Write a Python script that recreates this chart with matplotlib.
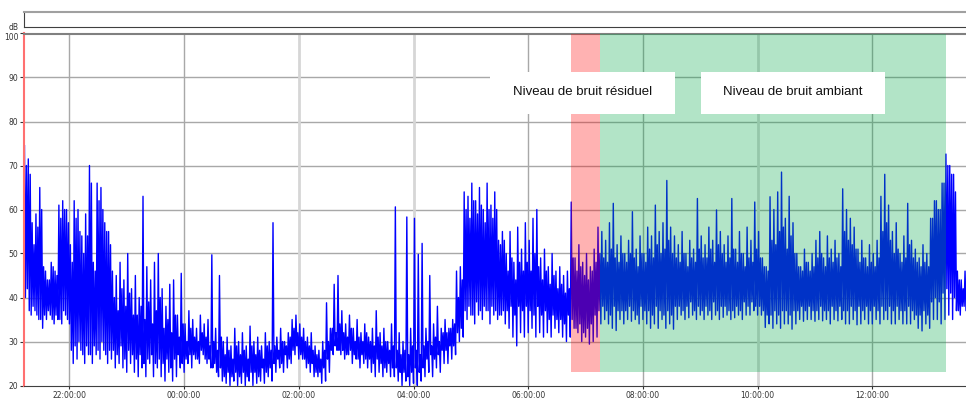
import numpy as np
import matplotlib
matplotlib.use("Agg")
import matplotlib.pyplot as plt
from matplotlib.patches import Rectangle

# Sound level record (dB) in 4-minute blocks starting at 21:13 the evening
# before: highest and lowest reading of each block, plus the upper and lower
# edge of the bulk of the readings in that block.
start_min = -167          # minutes relative to midnight (21:13)
step_min = 4

peaks = [
    74.5, 71.5, 57, 59, 65, 47, 44, 48, 46, 61,
    62, 60, 52, 62, 60, 54, 59, 70, 48, 66,
    65, 57, 55, 46, 45, 48, 44, 50, 42, 45,
    40, 63, 47, 44, 48, 50, 42, 38, 43, 44,
    36, 45.5, 34, 37, 35, 33, 36, 34, 35, 49.7,
    33, 45, 30, 31, 29, 33, 30, 32, 29, 33.5,
    30, 31, 29, 32, 30, 57, 31, 33, 30, 32,
    35, 36, 34, 33, 31, 32, 29, 28, 30, 38.8,
    33, 43, 45, 37, 34, 36, 33, 35, 32, 34,
    31, 33, 37, 32, 33, 30, 34, 60.6, 32, 30,
    58.3, 33, 58, 49.8, 52.3, 33, 45, 34, 38, 33,
    35, 33, 35, 46, 47, 64, 63, 66, 62, 65,
    60, 66, 61, 64, 53, 55, 50, 55, 48, 56,
    51, 57, 53, 58, 60, 49, 51, 47, 50, 46,
    47, 45, 46, 61.7, 49, 52, 48, 50, 47, 51,
    56, 55, 53, 57, 61.4, 52, 54, 50, 53, 59.5,
    51, 54, 50, 56, 54, 61, 55, 57, 66.6, 56,
    54, 52, 55, 50, 53, 51, 62.5, 54, 52, 56,
    53, 59.9, 55, 52, 54, 62.5, 51, 55, 50, 56,
    53, 61.7, 55, 49, 47, 62.9, 60, 64, 68.5, 58,
    63, 57, 50, 47, 51, 48, 50, 53, 55, 49,
    54, 51, 53, 50, 64.7, 60, 58, 56, 51, 53,
    49, 52, 50, 53, 63, 68, 61, 55, 57, 50,
    54, 61.4, 53, 51, 49, 52, 50, 58, 62, 60,
    66, 72.6, 70, 68, 46, 44, 46,
]

troughs = [
    42, 36, 37, 35, 33, 35, 36, 34, 35, 34,
    36, 34, 25, 26, 28, 25, 27, 25, 27, 26,
    28, 25, 26, 24, 25, 24, 23, 25, 23, 22,
    24, 22, 25, 22, 24, 22, 21, 23, 21, 22,
    24, 23, 25, 24, 26, 25, 27, 25, 24, 25,
    22, 21, 20.5, 20, 21, 20, 20.5, 20, 21, 20,
    20.5, 21, 20.5, 22, 21, 23, 24, 23, 24, 25,
    27, 26, 26, 24, 23, 22, 22, 20.5, 21, 23,
    27, 28, 27, 26, 27, 25, 26, 24, 25, 24,
    23, 22, 23, 22, 23, 22, 22, 21, 20, 21,
    20, 20.5, 20, 21, 22, 23, 22, 24, 23, 25,
    25, 26, 27, 30, 31, 35, 36, 34, 36, 35,
    37, 34, 36, 35, 36, 34, 33, 31, 29, 32,
    31, 32, 33, 31, 32, 31, 32, 31, 33, 32,
    31, 30, 31, 33, 32, 30, 31, 29.4, 30, 31,
    34, 35, 34, 33, 32.5, 35, 34, 35, 34.6, 35,
    34, 35, 34, 33, 34, 33, 35, 33, 34, 32.8,
    35, 36, 35, 35.4, 36, 35, 36, 35, 36, 35,
    36, 35, 35.5, 36, 35, 35.4, 36, 35, 36, 36,
    37, 36, 36, 33.2, 34, 33, 34, 33, 34, 34,
    32.8, 34, 35, 34.6, 35, 35, 34.6, 35, 34.7, 35,
    34, 35, 34.7, 35, 34, 34, 35, 33.8, 34, 35,
    34, 34, 35, 34, 35, 35, 34, 34, 35, 34,
    34, 34, 35, 33, 32.4, 34, 33, 35, 35, 34,
    35, 36, 35, 37, 36, 38, 35,
]

bulk_hi = [
    70, 68, 52, 56, 60, 46, 44, 47, 45, 58, 60, 57,
    48, 58, 55, 50, 54, 66, 46, 62, 60, 55, 52,
    40, 37, 42, 38, 41, 36, 36, 38, 35, 39, 34, 37, 40,
    33, 35, 32, 36, 31, 34, 30, 33, 31, 30, 32, 31, 29,
    30, 28, 31, 27, 28, 26, 29, 27, 28, 26, 29, 27, 28, 26, 29, 28,
    29, 28, 30, 29, 31, 33, 32, 31, 30, 29, 28, 27, 26, 28, 30,
    33, 32, 34, 32, 31, 33, 30, 31, 30, 32, 30, 29, 31, 29, 30, 28, 29,
    28, 27, 28, 27, 29, 28, 27, 29, 30, 29, 31, 30, 32, 32, 33, 34,
    40, 44, 60, 58, 62, 59, 61, 57, 60, 58, 60, 52, 53,
    46, 49, 44, 48, 46, 48, 46, 50, 47, 44, 46, 43, 45, 42, 43, 41, 42,
    49, 46, 47, 45, 44, 46, 48, 50, 49, 48, 51, 49, 48, 50,
    48, 50, 49, 47, 50, 48, 51, 49, 52, 50, 51, 53, 50, 49,
    48, 50, 47, 49, 48, 51, 49, 49, 51, 48, 52, 50, 48, 49,
    51, 48, 50, 47, 49, 48, 51, 49, 47, 46, 53, 52, 55, 56, 51, 54, 50,
    47, 46, 48, 46, 47, 49, 50, 47, 49, 48, 49, 47, 55, 53, 52, 51,
    48, 49, 47, 48, 47, 49, 55, 57, 53, 50, 51, 48, 49, 52, 49,
    48, 47, 48, 47, 58, 62, 60, 66, 70, 68, 64, 44, 42, 44,
]

bulk_lo = [
    40, 37, 38, 36, 35, 36, 37, 35, 36, 35, 37, 35,
    28, 29, 30, 27, 29, 27, 29, 28, 30, 27, 28,
    28, 27, 29, 26, 28, 27, 26, 27, 25, 26, 27, 25, 26,
    25, 26, 24, 26, 27, 25, 26, 27, 27, 26, 28, 26, 26,
    24, 23, 24, 22, 23, 22, 23, 22, 23, 22, 23, 23, 22, 24, 23, 24,
    25, 26, 25, 27, 26, 28, 29, 27, 26, 25, 25, 23, 23, 24, 26,
    28, 29, 28, 28, 27, 28, 27, 26, 27, 26, 26, 25, 26, 25, 24, 25, 24,
    24, 23, 23, 22, 23, 24, 23, 24, 26, 27, 26, 27, 28, 28, 29, 29,
    32, 33, 37, 38, 36, 39, 37, 38, 37, 38, 37, 36, 37,
    37, 38, 36, 38, 37, 38, 37, 36, 38, 36, 37, 35, 36, 35, 35, 34, 36,
    35, 33, 34, 32, 33, 34, 36, 37, 38, 37, 36, 38, 37, 37,
    37, 38, 37, 36, 38, 37, 37, 36, 38, 37, 36, 37, 36, 38,
    38, 37, 38, 39, 37, 38, 37, 38, 37, 39, 37, 38, 38, 37,
    37, 38, 37, 39, 38, 39, 38, 38, 37, 36, 36, 37, 36, 37, 37, 36, 37,
    37, 38, 37, 38, 37, 37, 38, 37, 37, 38, 37, 38, 37, 37, 38, 37,
    38, 37, 38, 37, 38, 37, 38, 37, 38, 37, 38, 37, 37, 38, 37,
    36, 36, 37, 36, 39, 40, 39, 41, 42, 41, 40, 37, 38, 37,
]

# Marked periods (minutes relative to midnight) and band floor
residual_span = (405, 435)     # 06:45 - 07:15
ambient_span = (435, 797)      # 07:15 - 13:17
band_floor = 23

tick_minutes = [-120, 0, 120, 240, 360, 480, 600, 720]
tick_labels = ["22:00:00", "00:00:00", "02:00:00", "04:00:00",
               "06:00:00", "08:00:00", "10:00:00", "12:00:00"]
y_ticks = [20, 30, 40, 50, 60, 70, 80, 90, 100]

# one minute apart: peak, bulk low, bulk high, trough
n = len(peaks)
t0 = start_min + step_min * np.arange(n)
t = np.column_stack([t0, t0 + 1, t0 + 2, t0 + 3]).ravel()
level = np.column_stack([peaks, bulk_lo, bulk_hi, troughs]).ravel()

W, H = 966, 399
fig = plt.figure(figsize=(W / 100, H / 100), dpi=100)

ax = fig.add_axes([24 / W, 13.5 / H, 942 / W, 352 / H])
ax.set_xlim(-167.5, 818)
ax.set_ylim(20, 100)

# grid
for v in y_ticks[1:-1]:
    ax.axhline(v, color="#a8a8a8", lw=1, zorder=0)
light = {120, 240, 600}
for m in tick_minutes:
    if m in light:
        ax.axvline(m, color="#d6d6d6", lw=2, zorder=0)
    else:
        ax.axvline(m, color="#a8a8a8", lw=1, zorder=0)

ax.plot(t, level, color="#0000ff", lw=1.0, zorder=2)

# marked periods drawn over the trace
ax.add_patch(Rectangle((residual_span[0], band_floor),
                       residual_span[1] - residual_span[0], 100 - band_floor,
                       facecolor=(1, 0, 0), alpha=0.3, lw=0, zorder=3))
ax.add_patch(Rectangle((ambient_span[0], band_floor),
                       ambient_span[1] - ambient_span[0], 100 - band_floor,
                       facecolor=(0, 167 / 255, 70 / 255), alpha=0.3, lw=0, zorder=3))

# label boxes
for x0, x1, label in [(490, 675, "Niveau de bruit résiduel"),
                      (701, 885, "Niveau de bruit ambiant")]:
    fx0 = (x0 - 24) / 942
    fx1 = (x1 - 24) / 942
    ax.add_patch(Rectangle((fx0, 0.771), fx1 - fx0, 0.12, transform=ax.transAxes,
                           facecolor="white", lw=0, zorder=5))
    ax.text((fx0 + fx1) / 2, 0.833, label, transform=ax.transAxes,
            ha="center", va="center", fontsize=9.5, family="Liberation Sans",
            color="#111111", zorder=6)

ax.set_xticks(tick_minutes)
ax.set_xticklabels(tick_labels)
ax.set_yticks(y_ticks)
ax.tick_params(axis="both", labelsize=5.5, colors="#333333", length=3, width=0.8)
ax.tick_params(axis="x", length=2, pad=2)
ax.tick_params(axis="y", pad=1)
ax.get_yticklabels()[-1].set_va("top")

ax.spines["left"].set_color("#ff7070")
ax.spines["left"].set_linewidth(1.5)
ax.spines["bottom"].set_color("#404040")
ax.spines["top"].set_color("#808080")
ax.spines["top"].set_linewidth(1.5)
ax.spines["right"].set_visible(False)

fig.text(14 / W, 1 - 27 / H, "dB", fontsize=5.5, color="#333333",
         ha="center", va="center")

# empty strip above the chart
strip = fig.add_axes([24 / W, 1 - 27 / H, 942 / W, 15 / H])
strip.set_xticks([])
strip.set_yticks([])
strip.spines["top"].set_color("#a0a0a0")
strip.spines["top"].set_linewidth(1.5)
strip.spines["left"].set_color("#404040")
strip.spines["bottom"].set_color("#404040")
strip.spines["right"].set_visible(False)

fig.savefig("out.png", dpi=100)
